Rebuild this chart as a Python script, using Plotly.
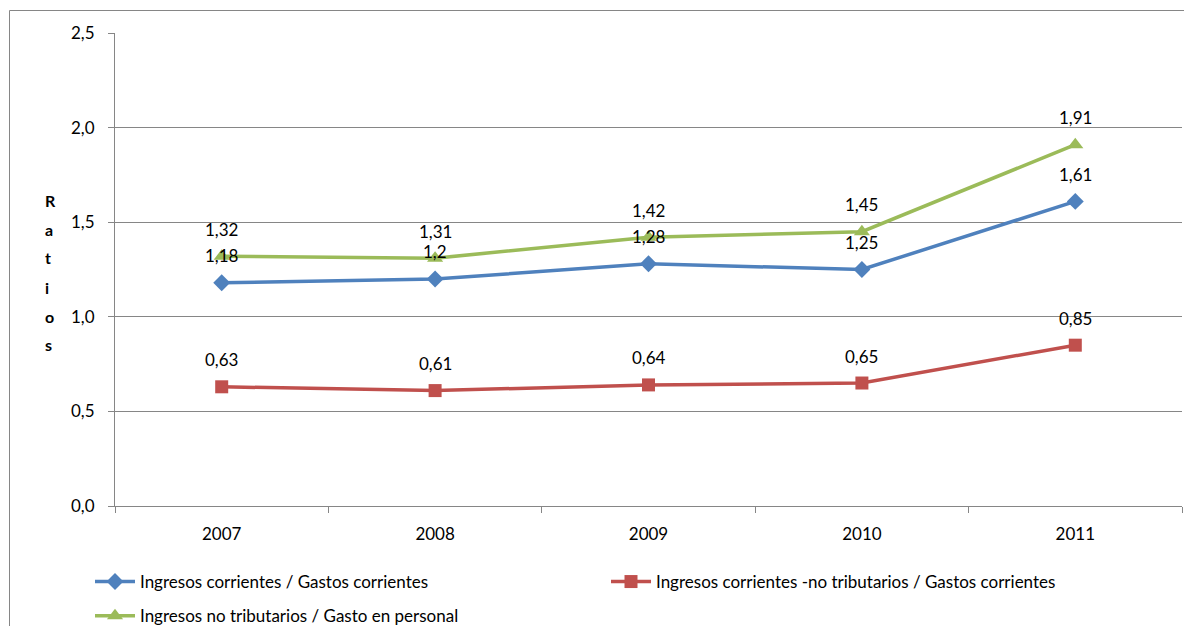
import plotly.graph_objects as go

years = ["2007", "2008", "2009", "2010", "2011"]
ratio_corr = [1.18, 1.20, 1.28, 1.25, 1.61]
ratio_no_trib = [0.63, 0.61, 0.64, 0.65, 0.85]
ratio_personal = [1.32, 1.31, 1.42, 1.45, 1.91]

names = [
    "Ingresos corrientes / Gastos corrientes",
    "Ingresos corrientes -no tributarios / Gastos corrientes",
    "Ingresos no tributarios / Gasto en personal",
]
colors = ["#4F81BD", "#C0504D", "#9BBB59"]
symbols = ["diamond", "square", "triangle-up"]
sizes = [13, 13, 14]
series = [ratio_corr, ratio_no_trib, ratio_personal]
legends = ["legend", "legend2", "legend"]
groups = ["a", "b", "c"]

FONT = "Lato"
FS = 17

# page offset (browser body margin)
OFF = 8
W, H = 1176, 618
# plot area in page pixels
PL, PR, PT, PB = 115, 1182, 33, 506
L = PL - OFF
T = PT - OFF
R = W - (PR - OFF)
B = H - (PB - OFF)
pw, ph = W - L - R, H - T - B


def px(x):
    return (x - PL) / pw


def py(y):
    return (PB - y) / ph


fig = go.Figure()
for vals, name, col, sym, sz, lg, gr in zip(series, names, colors, symbols, sizes, legends, groups):
    fig.add_trace(go.Scatter(
        x=years, y=vals, name=name, mode="lines+markers",
        line=dict(color=col, width=3.5),
        marker=dict(symbol=sym, size=sz, color=col),
        legend=lg, legendgroup=gr,
    ))

annotations = []
for vals in series:
    for i, v in enumerate(vals):
        annotations.append(dict(
            x=i, y=v, xref="x", yref="y", text=f"{v:g}".replace(".", ","),
            showarrow=False, yshift=27, yanchor="middle",
            font=dict(family=FONT, size=FS, color="#000000"),
        ))

# stacked vertical axis title
for i, ch in enumerate("Ratios"):
    annotations.append(dict(
        x=px(43), y=py(200 + i * 29), xref="paper", yref="paper",
        text=f"<b>{ch}</b>", showarrow=False,
        font=dict(family=FONT, size=16, color="#000000"),
    ))

fig.update_layout(
    width=W, height=H,
    margin=dict(l=L, r=R, t=T, b=B, autoexpand=False),
    paper_bgcolor="white", plot_bgcolor="white",
    separators=", ",
    font=dict(family=FONT, size=FS, color="#000000"),
    showlegend=True,
    legend=dict(
        x=px(90), y=py(564), xanchor="left", yanchor="top",
        orientation="v", tracegroupgap=9, font=dict(family=FONT, size=FS),
        bgcolor="rgba(0,0,0,0)", itemwidth=40,
    ),
    legend2=dict(
        x=px(606), y=py(564), xanchor="left", yanchor="top",
        orientation="v", font=dict(family=FONT, size=FS),
        bgcolor="rgba(0,0,0,0)", itemwidth=40,
    ),
    xaxis=dict(
        type="category", range=[-0.5, 4.5], tickson="boundaries",
        showgrid=False, showline=True, linecolor="#868686", linewidth=1,
        ticks="outside", ticklen=6, tickcolor="#868686",
        tickfont=dict(family=FONT, size=FS), ticklabelstandoff=13,
        zeroline=False,
    ),
    yaxis=dict(
        range=[0, 2.5], dtick=0.5, tickformat=".1f",
        showgrid=True, gridcolor="#868686", gridwidth=1,
        showline=True, linecolor="#868686", linewidth=1,
        ticks="outside", ticklen=6, tickcolor="#868686",
        tickfont=dict(family=FONT, size=FS), ticklabelstandoff=10,
        zeroline=False,
    ),
    annotations=annotations,
    shapes=[dict(
        type="rect", xref="paper", yref="paper",
        x0=px(9.5), x1=px(1210),
        y0=py(660), y1=py(10.5),
        line=dict(color="#868686", width=1), fillcolor="rgba(0,0,0,0)",
    )],
)

fig.write_html("out.html")
